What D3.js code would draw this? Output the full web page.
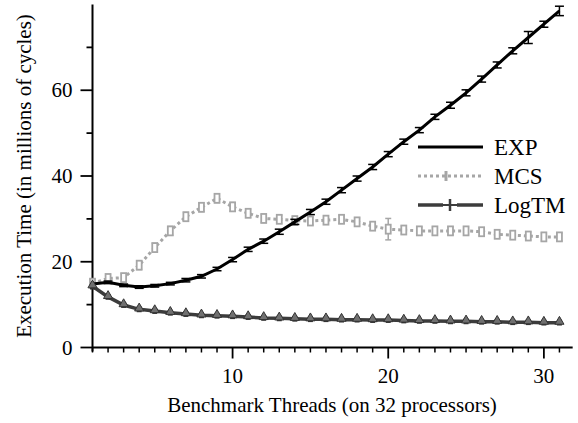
<!DOCTYPE html>
<html>
<head>
<meta charset="utf-8">
<script src="https://cdn.jsdelivr.net/npm/d3@7"></script>
<style>
  html, body { margin: 0; padding: 0; background: #fff; }
  svg { display: block; }
</style>
</head>
<body>
<svg id="chart" width="578" height="423"></svg>
<script>
// ---- data ----
const threads = [1,2,3,4,5,6,7,8,9,10,11,12,13,14,15,16,17,18,19,20,21,22,23,24,25,26,27,28,29,30,31];
const expValues = [14.8,15.2,14.5,14.1,14.4,14.9,15.7,16.6,18.3,20.5,22.9,24.8,27.0,29.3,31.6,34.0,36.7,39.4,42.1,45.1,48.0,50.7,53.8,56.5,59.4,62.6,65.9,69.2,72.3,75.4,78.5];
const expErr = [0.3,0.3,0.3,0.3,0.3,0.3,0.4,0.4,0.4,0.5,0.5,0.5,0.6,0.6,0.6,0.6,0.6,0.6,0.6,0.6,0.6,0.6,0.6,0.7,0.7,0.7,0.7,0.7,1.4,0.7,1.1];
const mcsValues = [15.0,16.1,16.3,19.2,23.3,27.2,30.5,32.7,34.8,32.8,31.3,30.1,29.9,29.6,29.5,29.7,29.9,29.3,28.3,27.6,27.4,27.2,27.2,27.2,27.2,27.0,26.4,26.2,26.0,25.8,25.8];
const mcsErr = [0.9,0.9,0.9,1.0,1.0,1.0,1.0,1.0,1.0,1.0,0.9,0.9,0.9,0.9,0.9,0.9,0.9,0.9,0.9,2.5,0.9,0.9,0.9,0.9,0.9,0.9,0.9,0.9,0.9,0.9,0.9];
const logtmValues = [14.3,11.8,9.9,8.9,8.5,8.1,7.8,7.5,7.4,7.3,7.1,6.9,6.8,6.7,6.6,6.6,6.5,6.5,6.4,6.4,6.3,6.2,6.2,6.1,6.1,6.0,6.0,5.9,5.9,5.8,5.8];
const logtmErr = [0.6,0.5,0.5,0.5,0.5,0.5,0.5,0.5,0.5,0.5,0.5,0.5,0.5,0.5,0.5,0.5,0.5,0.5,0.5,0.5,0.5,0.5,0.5,0.5,0.5,0.5,0.5,0.5,0.5,0.5,0.5];
const xMajorTicks = [10,20,30];
const yMajorTicks = [0,20,40,60];
const yMinorTicks = [10,30,50,70];
const seriesNames = ["EXP","MCS","LogTM"];
const xTitle = "Benchmark Threads (on 32 processors)";
const yTitle = "Execution Time (in millions of cycles)";

const FONT = "'Liberation Serif'";

// ---- layout ----
const svg = d3.select("#chart");
const x = d3.scaleLinear().domain([1, 32]).range([92.5, 575]);
const y = d3.scaleLinear().domain([0, 80]).range([347.5, 4.5]);

const colors = { EXP: "#000", MCS: "#a6a6a6", LogTM: "#3c3c3c" };

// axes
const gx = svg.append("g").attr("transform", `translate(0,${y(0)})`);
gx.append("line").attr("x1", x(1)).attr("x2", x(31.85)).attr("stroke", "#000").attr("stroke-width", 2);
const minorX = d3.range(1, 32).filter(v => !xMajorTicks.includes(v));
gx.selectAll(".mx").data(minorX).join("line")
  .attr("x1", d => x(d)).attr("x2", d => x(d)).attr("y1", 0).attr("y2", 5)
  .attr("stroke", "#000").attr("stroke-width", 1.5);
gx.selectAll(".Mx").data(xMajorTicks).join("line")
  .attr("x1", d => x(d)).attr("x2", d => x(d)).attr("y1", 0).attr("y2", 11)
  .attr("stroke", "#000").attr("stroke-width", 1.8);
gx.selectAll(".lx").data(xMajorTicks).join("text")
  .attr("x", d => x(d)).attr("y", 35).attr("text-anchor", "middle")
  .style("font-family", FONT).style("font-size", "21px").text(d => d);

const gy = svg.append("g").attr("transform", `translate(${x(1)},0)`);
gy.append("line").attr("y1", y(80)).attr("y2", y(0) + 4).attr("stroke", "#000").attr("stroke-width", 2);
gy.selectAll(".my").data(yMinorTicks).join("line")
  .attr("x1", -6).attr("x2", 0).attr("y1", d => y(d)).attr("y2", d => y(d))
  .attr("stroke", "#000").attr("stroke-width", 1.8);
gy.selectAll(".My").data(yMajorTicks).join("line")
  .attr("x1", -12).attr("x2", 0).attr("y1", d => y(d)).attr("y2", d => y(d))
  .attr("stroke", "#000").attr("stroke-width", 1.8);
gy.selectAll(".ly").data(yMajorTicks).join("text")
  .attr("x", -20).attr("y", d => y(d)).attr("dy", "0.34em").attr("text-anchor", "end")
  .style("font-family", FONT).style("font-size", "21px").text(d => d);

svg.append("text").attr("x", 332).attr("y", 412).attr("text-anchor", "middle")
  .style("font-family", FONT).style("font-size", "21px").text(xTitle);
svg.append("text").attr("transform", `translate(31,176) rotate(-90)`).attr("text-anchor", "middle")
  .style("font-family", FONT).style("font-size", "21px").text(yTitle);

// ---- series ----
function mk(values, errs) {
  return threads.map((t, i) => ({ t, v: values[i], e: errs[i] }));
}
const expData = mk(expValues, expErr);
const mcsData = mk(mcsValues, mcsErr);
const logData = mk(logtmValues, logtmErr);
const line = d3.line().x(d => x(d.t)).y(d => y(d.v));

function errorBars(data, color, cap, width) {
  const g = svg.append("g").attr("stroke", color).attr("stroke-width", width).attr("fill", "none");
  g.selectAll(".v").data(data).join("line")
    .attr("x1", d => x(d.t)).attr("x2", d => x(d.t))
    .attr("y1", d => y(d.v - d.e)).attr("y2", d => y(d.v + d.e));
  g.selectAll(".t").data(data).join("line")
    .attr("x1", d => x(d.t) - cap).attr("x2", d => x(d.t) + cap)
    .attr("y1", d => y(d.v + d.e)).attr("y2", d => y(d.v + d.e));
  g.selectAll(".b").data(data).join("line")
    .attr("x1", d => x(d.t) - cap).attr("x2", d => x(d.t) + cap)
    .attr("y1", d => y(d.v - d.e)).attr("y2", d => y(d.v - d.e));
}

// MCS
svg.append("path").datum(mcsData).attr("d", line).attr("fill", "none")
  .attr("stroke", colors.MCS).attr("stroke-width", 3).attr("stroke-dasharray", "3,3");
errorBars(mcsData, colors.MCS, 3, 1.5);
svg.append("g").selectAll("rect").data(mcsData).join("rect")
  .attr("x", d => x(d.t) - 2.5).attr("y", d => y(d.v) - 4.5).attr("width", 5).attr("height", 9)
  .attr("fill", "#fff").attr("stroke", colors.MCS).attr("stroke-width", 1.8);

// EXP
svg.append("path").datum(expData).attr("d", line).attr("fill", "none")
  .attr("stroke", colors.EXP).attr("stroke-width", 3);
errorBars(expData.slice(1), colors.EXP, 4.5, 1.5);

// LogTM
svg.append("path").datum(logData).attr("d", line).attr("fill", "none")
  .attr("stroke", colors.LogTM).attr("stroke-width", 3.5);
errorBars(logData, "#333", 2.5, 1.5);
const tri = d3.symbol().type(d3.symbolTriangle).size(36);
svg.append("g").selectAll("path").data(logData).join("path")
  .attr("transform", d => `translate(${x(d.t)},${y(d.v) - 1})`)
  .attr("d", tri).attr("fill", "#707070").attr("stroke", "#333").attr("stroke-width", 1);

// ---- legend ----
const lg = svg.append("g");
const lx0 = 418, lx1 = 483, ly0 = 147, lstep = 29;
seriesNames.forEach((name, i) => {
  const yy = ly0 + i * lstep;
  if (name === "EXP") {
    lg.append("line").attr("x1", lx0).attr("x2", lx1).attr("y1", yy).attr("y2", yy)
      .attr("stroke", colors.EXP).attr("stroke-width", 3);
  } else if (name === "MCS") {
    lg.append("line").attr("x1", lx0).attr("x2", lx1).attr("y1", yy).attr("y2", yy)
      .attr("stroke", colors.MCS).attr("stroke-width", 3).attr("stroke-dasharray", "3,3");
    lg.append("line").attr("x1", 446).attr("x2", 446).attr("y1", yy - 5).attr("y2", yy + 5)
      .attr("stroke", colors.MCS).attr("stroke-width", 3);
  } else {
    lg.append("line").attr("x1", lx0).attr("x2", 443).attr("y1", yy).attr("y2", yy)
      .attr("stroke", colors.LogTM).attr("stroke-width", 3.5);
    lg.append("line").attr("x1", 457).attr("x2", lx1).attr("y1", yy).attr("y2", yy)
      .attr("stroke", colors.LogTM).attr("stroke-width", 3.5);
    lg.append("line").attr("x1", 443).attr("x2", 457).attr("y1", yy).attr("y2", yy)
      .attr("stroke", colors.LogTM).attr("stroke-width", 2);
    lg.append("line").attr("x1", 450).attr("x2", 450).attr("y1", yy - 6).attr("y2", yy + 6)
      .attr("stroke", colors.LogTM).attr("stroke-width", 2.5);
  }
  lg.append("text").attr("x", 494).attr("y", yy).attr("dy", "0.35em")
    .style("font-family", FONT).style("font-size", "23px").text(name);
});
</script>
</body>
</html>
